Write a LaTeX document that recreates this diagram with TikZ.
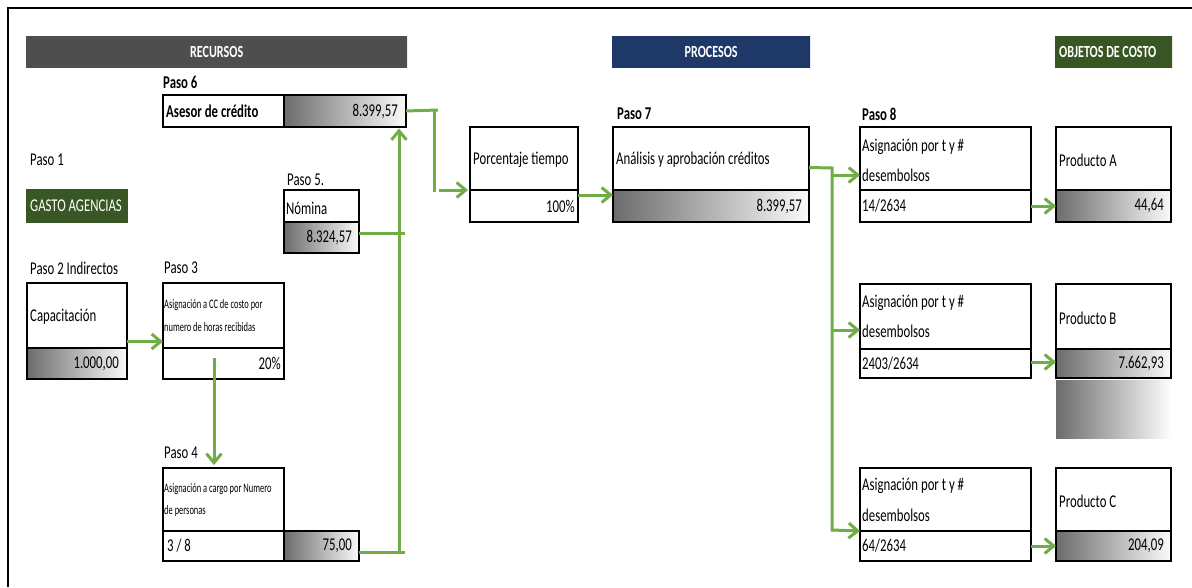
\documentclass[tikz,border=0pt]{standalone}
\usepackage{fontspec}
\setmainfont{Carlito}[FakeStretch=0.71]
\newfontfamily\narrowfont{Carlito}[FakeStretch=0.65]
\usetikzlibrary{arrows.meta}

\definecolor{flowgreen}{RGB}{112,173,71}
\definecolor{gradL}{RGB}{108,108,108}
\definecolor{gradR}{RGB}{250,250,250}
\definecolor{hdrGrayA}{RGB}{78,78,78}
\definecolor{hdrGrayB}{RGB}{110,110,110}
\definecolor{hdrBlueA}{RGB}{30,56,104}
\definecolor{hdrBlueB}{RGB}{48,86,150}
\definecolor{hdrGreenA}{RGB}{55,86,35}
\definecolor{hdrGreenB}{RGB}{74,118,44}
\definecolor{agencyGreen}{RGB}{56,87,36}

\tikzset{
  cell/.style={draw=black, line width=1.9pt, anchor=north west, inner sep=0pt, outer sep=0pt},
  shadecell/.style={cell, left color=gradL, right color=gradR},
  lt/.style={anchor=west, inner sep=0pt, font=\fontsize{18}{21}\selectfont},
  rt/.style={anchor=east, inner sep=0pt, font=\fontsize{18}{21}\selectfont},
  small/.style={anchor=west, inner sep=0pt, font=\narrowfont\fontsize{13}{15}\selectfont},
  pasolbl/.style={anchor=west, inner sep=0pt, font=\fontsize{18}{21}\selectfont},
  pasobold/.style={pasolbl, font=\bfseries\fontsize{18}{21}\selectfont},
  header/.style={anchor=north west, inner sep=0pt, text=white, font=\bfseries\fontsize{17}{20}\selectfont},
  flow/.style={draw=flowgreen, line width=3pt},
  flowarrow/.style={flow, -{Straight Barb[length=9pt,width=15pt,line width=3pt]}},
}

\begin{document}
\begin{tikzpicture}[x=1pt,y=-1pt]
\useasboundingbox (0,0) rectangle (1192,587);

% outer frame (top and left edges)
\draw[line width=2pt] (8,587) -- (8,8) -- (1192,8);

% section headers
\node[header, minimum width=381pt, minimum height=31pt,
      left color=hdrGrayA, middle color=hdrGrayB, right color=hdrGrayA] (recursos) at (26,36) {RECURSOS};
\node[header, minimum width=198pt, minimum height=31pt,
      left color=hdrBlueA, middle color=hdrBlueB, right color=hdrBlueA] (procesos) at (612,36) {PROCESOS};
\node[header, minimum width=117pt, minimum height=31pt,
      left color=hdrGreenA, middle color=hdrGreenB, right color=hdrGreenA] (objetos) at (1055,36) {};
\node[anchor=west, inner sep=0pt, text=white, font=\bfseries\fontsize{17}{20}\selectfont] (objetost) at ([xshift=4pt]objetos.west) {OBJETOS DE COSTO};

% step labels
\node[pasolbl] (p1) at (30,160) {Paso 1};
\node[pasolbl] (p2) at (30,268) {Paso 2 Indirectos};
\node[pasolbl] (p3) at (164,268) {Paso 3};
\node[pasolbl] (p4) at (164,453) {Paso 4};
\node[pasolbl] (p5) at (287,180) {Paso 5.};
\node[pasobold] (p6) at (163,82) {Paso 6};
\node[pasobold] (p7) at (617,114) {Paso 7};
\node[pasobold] (p8) at (862,114) {Paso 8};

% Paso 1
\node[anchor=north west, inner sep=0pt, fill=agencyGreen, minimum width=102pt, minimum height=34pt] (gasto) at (26,189) {};
\node[anchor=west, inner sep=0pt, text=white, font=\fontsize{18}{21}\selectfont] (gastot) at ([xshift=4pt]gasto.west) {GASTO AGENCIAS};

% Paso 6
\node[cell, minimum width=121pt, minimum height=32pt] (asesorL) at (163,95) {};
\node[shadecell, minimum width=122pt, minimum height=32pt] (asesorR) at (284,95) {};
\node[lt, font=\bfseries\fontsize{18}{21}\selectfont] (asesorLt) at ([xshift=3pt]asesorL.west) {Asesor de crédito};
\node[rt] (asesorRt) at ([xshift=-8pt]asesorR.east) {8.399,57};

% Paso 5
\node[cell, minimum width=75pt, minimum height=32pt] (nominaT) at (284,190) {};
\node[shadecell, minimum width=75pt, minimum height=31pt] (nominaB) at (284,222) {};
\node[lt] (nominaTt) at ([xshift=2pt,yshift=-2pt]nominaT.west) {Nómina};
\node[rt] (nominaBt) at ([xshift=-7pt]nominaB.east) {8.324,57};

% Paso 2
\node[cell, minimum width=100pt, minimum height=65pt] (capT) at (27,283) {};
\node[shadecell, minimum width=100pt, minimum height=31pt] (capB) at (27,348) {};
\node[lt] (capTt) at ([xshift=3pt,yshift=-1pt]capT.west) {Capacitación};
\node[rt] (capBt) at ([xshift=-8pt]capB.east) {1.000,00};

% Paso 3
\node[cell, minimum width=121pt, minimum height=65pt] (p3T) at (163,283) {};
\node[cell, minimum width=121pt, minimum height=31pt] (p3B) at (163,348) {};
\node[small] (p3Ta) at ([xshift=1pt,yshift=-22.5pt]p3T.north west) {Asignación a CC de costo por};
\node[small] (p3Tb) at ([xshift=1pt,yshift=-44pt]p3T.north west) {numero de horas recibidas};
\node[rt] (p3Bt) at ([xshift=-3pt]p3B.east) {20\%};

% Paso 4
\node[cell, minimum width=121pt, minimum height=63pt] (p4T) at (163,468) {};
\node[cell, minimum width=121pt, minimum height=30pt] (p4L) at (163,531) {};
\node[shadecell, minimum width=75pt, minimum height=30pt] (p4R) at (284,531) {};
\node[small] (p4Ta) at ([xshift=1pt,yshift=-21pt]p4T.north west) {Asignación a cargo por Numero};
\node[small] (p4Tb) at ([xshift=1pt,yshift=-43pt]p4T.north west) {de personas};
\node[lt] (p4Lt) at ([xshift=4pt]p4L.west) {3 / 8};
\node[rt] (p4Rt) at ([xshift=-7pt]p4R.east) {75,00};

% driver: porcentaje tiempo
\node[cell, minimum width=108pt, minimum height=63pt] (porT) at (470,127) {};
\node[cell, minimum width=108pt, minimum height=32pt] (porB) at (470,190) {};
\node[lt] (porTt) at ([xshift=3pt,yshift=-1.5pt]porT.west) {Porcentaje tiempo};
\node[rt] (porBt) at ([xshift=-3pt]porB.east) {100\%};

% Paso 7
\node[cell, minimum width=196pt, minimum height=63pt] (anaT) at (613,127) {};
\node[shadecell, minimum width=196pt, minimum height=32pt] (anaB) at (613,190) {};
\node[lt] (anaTt) at ([xshift=3pt,yshift=-1.5pt]anaT.west) {Análisis y aprobación créditos};
\node[rt] (anaBt) at ([xshift=-7pt]anaB.east) {8.399,57};

% Paso 8: allocation rows
\node[cell, minimum width=171pt, minimum height=63pt] (asgAT) at (860,127) {};
\node[cell, minimum width=171pt, minimum height=32pt] (asgAB) at (860,190) {};
\node[lt] (asgATa) at ([xshift=2pt,yshift=-19.5pt]asgAT.north west) {Asignación por t y \#};
\node[lt] (asgATb) at ([xshift=2pt,yshift=-48.5pt]asgAT.north west) {desembolsos};
\node[lt] (asgABt) at ([xshift=2pt]asgAB.west) {14/2634};

\node[cell, minimum width=171pt, minimum height=65pt] (asgBT) at (860,284) {};
\node[cell, minimum width=171pt, minimum height=29pt] (asgBB) at (860,349) {};
\node[lt] (asgBTa) at ([xshift=2pt,yshift=-18.5pt]asgBT.north west) {Asignación por t y \#};
\node[lt] (asgBTb) at ([xshift=2pt,yshift=-47.5pt]asgBT.north west) {desembolsos};
\node[lt] (asgBBt) at ([xshift=2pt]asgBB.west) {2403/2634};

\node[cell, minimum width=171pt, minimum height=63pt] (asgCT) at (860,468) {};
\node[cell, minimum width=171pt, minimum height=30pt] (asgCB) at (860,531) {};
\node[lt] (asgCTa) at ([xshift=2pt,yshift=-18pt]asgCT.north west) {Asignación por t y \#};
\node[lt] (asgCTb) at ([xshift=2pt,yshift=-47.5pt]asgCT.north west) {desembolsos};
\node[lt] (asgCBt) at ([xshift=2pt]asgCB.west) {64/2634};

% cost objects
\node[cell, minimum width=115pt, minimum height=63pt] (prodAT) at (1056,127) {};
\node[shadecell, minimum width=115pt, minimum height=32pt] (prodAB) at (1056,190) {};
\node[lt] (prodATt) at ([xshift=3pt,yshift=-1.5pt]prodAT.west) {Producto A};
\node[rt] (prodABt) at ([xshift=-7pt]prodAB.east) {44,64};

\node[cell, minimum width=115pt, minimum height=65pt] (prodBT) at (1056,284) {};
\node[shadecell, minimum width=115pt, minimum height=29pt] (prodBB) at (1056,349) {};
\node[lt] (prodBTt) at ([xshift=3pt,yshift=-1.5pt]prodBT.west) {Producto B};
\node[rt] (prodBBt) at ([xshift=-7pt]prodBB.east) {7.662,93};
\node[anchor=north west, inner sep=0pt, minimum width=116pt, minimum height=58pt,
      left color=gradL, right color=white] (prodBpad) at (1056,380) {};

\node[cell, minimum width=115pt, minimum height=63pt] (prodCT) at (1056,468) {};
\node[shadecell, minimum width=115pt, minimum height=30pt] (prodCB) at (1056,531) {};
\node[lt] (prodCTt) at ([xshift=3pt,yshift=-1.5pt]prodCT.west) {Producto C};
\node[rt] (prodCBt) at ([xshift=-7pt]prodCB.east) {204,09};

% ---- connectors ----
% capacitación -> paso 3 -> paso 4
\draw[flowarrow] ([yshift=-26pt]capT.east) -- ([yshift=-26pt]p3T.west);
\coordinate (p3drop) at (214,358);
\draw[flowarrow] (p3drop) -- ([yshift=3pt]p3drop |- p4T.north);

% collector bus up to asesor de crédito
\coordinate (busBot) at (399,552);
\draw[flow] ([yshift=-6pt]p4R.east) -- ([xshift=6pt]busBot);
\draw[flow] ([yshift=4.5pt]nominaB.east) -- ([xshift=6pt]busBot |- 233,233);
\draw[flowarrow] (busBot) -- ([yshift=-1.5pt]busBot |- asesorR.south);

% asesor -> porcentaje tiempo -> análisis
\coordinate (elbow) at (434,110);
\draw[flow] (asesorR.east) -- ([xshift=4pt]elbow);
\draw[flow] (elbow) -- (434,192);
\draw[flowarrow] (439,190) -- ([xshift=-2pt]porB.north west);
\draw[flowarrow] ([yshift=-5pt]porB.north east) -- ([yshift=-5pt]anaB.north west);

% análisis -> allocation rows
\coordinate (fan) at (832,168);
\draw[flow] ([yshift=-9pt]anaT.east) -- (fan) -- (832,531.5);
\draw[flowarrow] (832,175) -- ([yshift=-16.5pt]asgAT.west);
\draw[flowarrow] (832,330) -- ([yshift=-13.5pt]asgBT.west);
\draw[flowarrow] (832,530) -- (asgCT.south west);

% allocation rows -> products
\draw[flowarrow] (asgAB.east) -- (prodAB.west);
\draw[flowarrow] ([yshift=1.5pt]asgBB.east) -- ([yshift=1.5pt]prodBB.west);
\draw[flowarrow] (asgCB.east) -- (prodCB.west);
\end{tikzpicture}
\end{document}
